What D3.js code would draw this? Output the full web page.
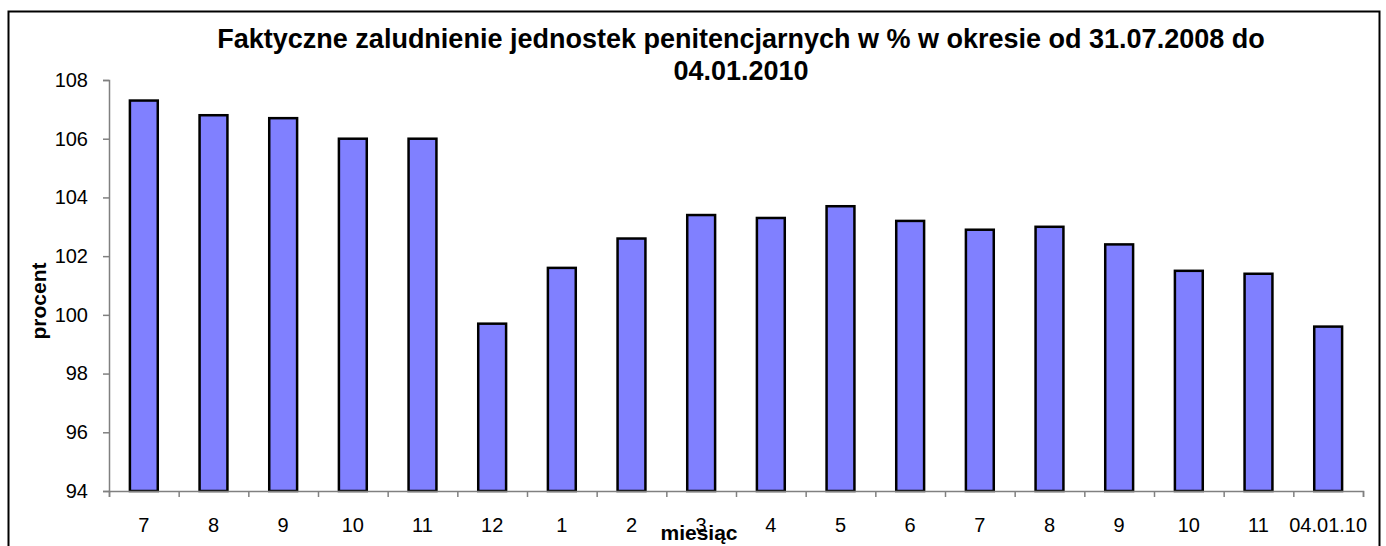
<!DOCTYPE html>
<html>
<head>
<meta charset="utf-8">
<script src="https://cdn.jsdelivr.net/npm/d3@7"></script>
<style>
  body { margin: 0; background: #fff; }
  svg { display: block; font-family: "Liberation Sans", Arial, sans-serif; }
</style>
</head>
<body>
<div id="chart"></div>
<script>
const categories = ['7', '8', '9', '10', '11', '12', '1', '2', '3', '4', '5', '6', '7', '8', '9', '10', '11', '04.01.10'];
const values = [107.3, 106.8, 106.7, 106.0, 106.0, 99.7, 101.6, 102.6, 103.4, 103.3, 103.7, 103.2, 102.9, 103.0, 102.4, 101.5, 101.4, 99.6];
const yTicks = [94, 96, 98, 100, 102, 104, 106, 108];
const titleLines = ['Faktyczne zaludnienie jednostek penitencjarnych w % w okresie od 31.07.2008 do', '04.01.2010'];

const width = 1386, height = 546;
const margin = { top: 80, right: 23, bottom: 55, left: 109 };
const plotW = width - margin.left - margin.right;
const plotH = 491 - margin.top;

const svg = d3.select('#chart')
  .append('svg')
  .attr('width', width)
  .attr('height', height);

// outer frame
svg.append('rect')
  .attr('x', 8.5).attr('y', 11.5)
  .attr('width', 1371).attr('height', 560)
  .attr('fill', 'none')
  .attr('stroke', '#000')
  .attr('stroke-width', 2);

const g = svg.append('g')
  .attr('transform', `translate(${margin.left},${margin.top})`);

const x = d3.scaleBand()
  .domain(d3.range(categories.length))
  .range([0, plotW])
  .paddingInner(0.6)
  .paddingOuter(0.3);

const y = d3.scaleLinear().domain([94, 108]).range([plotH, 0]);

// bars
g.selectAll('rect.bar')
  .data(values)
  .enter()
  .append('rect')
  .attr('class', 'bar')
  .attr('x', (d, i) => x(i))
  .attr('width', x.bandwidth())
  .attr('y', d => y(d))
  .attr('height', d => y(94) - y(d))
  .attr('fill', '#8080FF')
  .attr('stroke', '#000')
  .attr('stroke-width', 2.5);

// Y axis
const yAxis = g.append('g')
  .call(d3.axisLeft(y).tickValues(yTicks).tickSize(6).tickFormat(d3.format('d')));
yAxis.select('.domain').attr('stroke', '#808080').attr('stroke-width', 1.5);
yAxis.selectAll('.tick line').attr('stroke', '#808080').attr('stroke-width', 1.5);
yAxis.selectAll('.tick text')
  .attr('x', -21)
  .style('font-size', '20px')
  .attr('fill', '#000');

// X axis: tick marks at category boundaries
const xb = d3.scaleLinear().domain([0, categories.length]).range([0, plotW]);
const xAxis = g.append('g')
  .attr('transform', `translate(0,${plotH})`)
  .call(d3.axisBottom(xb).tickValues(d3.range(categories.length + 1)).tickSize(6).tickFormat(''));
xAxis.select('.domain').attr('stroke', '#808080').attr('stroke-width', 1.5);
xAxis.selectAll('.tick line').attr('stroke', '#808080').attr('stroke-width', 1.5);

g.append('g')
  .selectAll('text')
  .data(categories)
  .enter()
  .append('text')
  .attr('x', (d, i) => xb(i + 0.5))
  .attr('y', plotH + 41)
  .attr('text-anchor', 'middle')
  .style('font-size', '20px')
  .text(d => d);

// title
svg.append('g')
  .selectAll('text')
  .data(titleLines)
  .enter()
  .append('text')
  .attr('x', 741)
  .attr('y', (d, i) => 48 + i * 32)
  .attr('text-anchor', 'middle')
  .style('font-size', '27px')
  .style('font-weight', 'bold')
  .text(d => d);

// axis labels
svg.append('text')
  .attr('x', 699)
  .attr('y', 540)
  .attr('text-anchor', 'middle')
  .style('font-size', '21px')
  .style('font-weight', 'bold')
  .text('miesiąc');

svg.append('text')
  .attr('transform', 'translate(46,301) rotate(-90)')
  .attr('text-anchor', 'middle')
  .style('font-size', '21px')
  .style('font-weight', 'bold')
  .text('procent');
</script>
</body>
</html>
